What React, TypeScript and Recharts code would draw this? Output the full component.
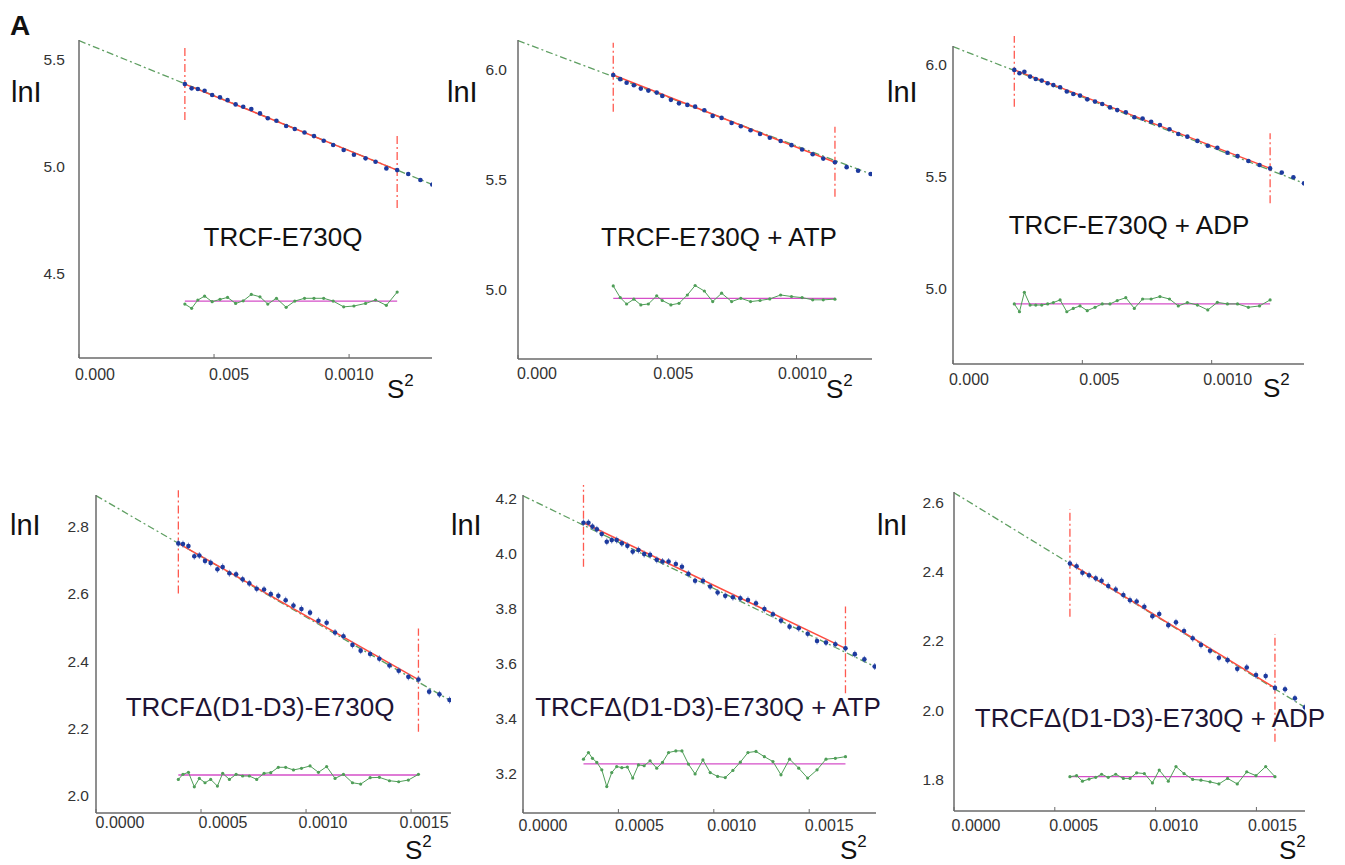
import React from 'react'
import { ComposedChart, Line, Scatter, XAxis, YAxis, ReferenceLine } from 'recharts'

// x tick values and the labels printed under them
const topXTicks = [0, 0.0005, 0.001]
const topXLabels = ['0.000', '0.005', '0.0010']
const bottomXTicks = [0, 0.0005, 0.001, 0.0015]
const bottomXLabels = ['0.0000', '0.0005', '0.0010', '0.0015']

// Panel 1: TRCF-E730Q
const p1S2 = [0.000392, 0.000417, 0.00044, 0.000465, 0.000493, 0.000522, 0.00055, 0.00058, 0.000608, 0.000638, 0.00067, 0.000699, 0.000731, 0.000767, 0.000799, 0.000835, 0.00087, 0.000906, 0.000941, 0.00098, 0.001018, 0.001061, 0.001098, 0.001138, 0.001178, 0.001219, 0.001264, 0.001308]
const p1LnI = [5.383, 5.363, 5.36, 5.352, 5.332, 5.321, 5.308, 5.288, 5.277, 5.266, 5.246, 5.223, 5.212, 5.187, 5.173, 5.157, 5.14, 5.118, 5.098, 5.075, 5.053, 5.036, 5.02, 4.989, 4.981, 4.963, 4.935, 4.914]
const p1Resid = [4.355, 4.335, 4.374, 4.392, 4.366, 4.377, 4.386, 4.358, 4.37, 4.4, 4.389, 4.355, 4.382, 4.34, 4.369, 4.382, 4.382, 4.382, 4.369, 4.342, 4.346, 4.358, 4.374, 4.349, 4.411]
const p1Fit = [[0.000392, 5.383], [0.001178, 4.981]]
const p1Extrap = [[0, 5.586], [0.001308, 4.914]]
const p1Cuts = [[0.000392, 5.215, 5.556], [0.001178, 4.804, 5.145]]
const p1Base = 4.369

// Panel 2: TRCF-E730Q + ATP
const p2S2 = [0.000342, 0.000367, 0.00039, 0.000416, 0.000441, 0.000468, 0.000498, 0.000518, 0.000549, 0.000578, 0.000608, 0.000636, 0.000669, 0.000699, 0.000731, 0.000767, 0.0008, 0.000835, 0.000869, 0.000904, 0.000943, 0.000982, 0.00102, 0.001058, 0.001096, 0.001138, 0.00118, 0.001221, 0.001266]
const p2LnI = [5.977, 5.958, 5.942, 5.93, 5.915, 5.906, 5.897, 5.882, 5.864, 5.848, 5.841, 5.833, 5.817, 5.791, 5.782, 5.759, 5.744, 5.726, 5.709, 5.692, 5.677, 5.658, 5.638, 5.617, 5.597, 5.58, 5.558, 5.542, 5.527]
const p2Resid = [5.018, 4.965, 4.936, 4.958, 4.932, 4.936, 4.973, 4.952, 4.932, 4.939, 4.977, 5.02, 4.995, 4.947, 4.985, 4.947, 4.962, 4.947, 4.952, 4.959, 4.977, 4.97, 4.965, 4.955, 4.955, 4.958]
const p2Fit = [[0.000342, 5.977], [0.001138, 5.58]]
const p2Extrap = [[0, 6.133], [0.001266, 5.527]]
const p2Cuts = [[0.000342, 5.81, 6.124], [0.001138, 5.424, 5.742]]
const p2Base = 4.962

// Panel 3: TRCF-E730Q + ADP
const p3S2 = [0.000237, 0.000257, 0.000276, 0.000298, 0.00032, 0.000343, 0.000366, 0.000388, 0.000414, 0.00044, 0.000465, 0.000491, 0.000519, 0.000549, 0.000577, 0.000607, 0.000635, 0.000668, 0.000701, 0.000733, 0.000766, 0.0008, 0.000837, 0.000871, 0.000906, 0.000945, 0.000985, 0.001022, 0.001061, 0.0011, 0.001142, 0.001185, 0.001226, 0.001271, 0.001316, 0.001357]
const p3LnI = [5.978, 5.963, 5.97, 5.948, 5.937, 5.93, 5.918, 5.91, 5.9, 5.881, 5.87, 5.863, 5.846, 5.836, 5.825, 5.81, 5.798, 5.788, 5.766, 5.76, 5.746, 5.731, 5.712, 5.691, 5.679, 5.66, 5.638, 5.629, 5.607, 5.592, 5.57, 5.552, 5.537, 5.518, 5.497, 5.47]
const p3Resid = [4.93, 4.895, 4.982, 4.925, 4.925, 4.925, 4.93, 4.936, 4.948, 4.895, 4.91, 4.921, 4.9, 4.915, 4.93, 4.93, 4.945, 4.958, 4.91, 4.952, 4.952, 4.963, 4.952, 4.921, 4.936, 4.925, 4.903, 4.937, 4.93, 4.93, 4.915, 4.921, 4.948]
const p3Fit = [[0.000237, 5.978], [0.001226, 5.537]]
const p3Extrap = [[0, 6.082], [0.001357, 5.47]]
const p3Cuts = [[0.000237, 5.813, 6.134], [0.001226, 5.381, 5.694]]
const p3Base = 4.93

// Panel 4: TRCFΔ(D1-D3)-E730Q
const p4S2 = [0.000392, 0.000414, 0.00044, 0.000468, 0.000492, 0.000519, 0.000546, 0.000578, 0.000603, 0.000635, 0.000667, 0.000698, 0.00073, 0.000765, 0.0008, 0.000832, 0.000868, 0.000903, 0.00094, 0.000978, 0.001019, 0.001059, 0.001098, 0.001138, 0.001178, 0.001221, 0.00126, 0.001305, 0.001349, 0.001397, 0.001441, 0.001487, 0.001535, 0.001586, 0.001635, 0.001683]
const p4LnI = [2.75, 2.748, 2.742, 2.712, 2.714, 2.698, 2.692, 2.673, 2.68, 2.661, 2.658, 2.643, 2.631, 2.615, 2.613, 2.599, 2.594, 2.581, 2.565, 2.555, 2.544, 2.52, 2.514, 2.485, 2.474, 2.448, 2.431, 2.421, 2.407, 2.387, 2.371, 2.353, 2.345, 2.309, 2.301, 2.284]
const p4Resid = [2.048, 2.063, 2.069, 2.026, 2.051, 2.038, 2.048, 2.028, 2.066, 2.048, 2.063, 2.058, 2.058, 2.048, 2.066, 2.068, 2.084, 2.084, 2.076, 2.081, 2.088, 2.069, 2.086, 2.051, 2.063, 2.038, 2.034, 2.053, 2.054, 2.044, 2.041, 2.046, 2.063]
const p4Fit = [[0.000392, 2.75], [0.001535, 2.345]]
const p4Extrap = [[0, 2.892], [0.001683, 2.284]]
const p4Cuts = [[0.000392, 2.601, 2.908], [0.001535, 2.19, 2.497]]
const p4Base = 2.061

// Panel 5: TRCFΔ(D1-D3)-E730Q + ATP
const p5S2 = [0.000317, 0.000343, 0.000364, 0.000387, 0.000413, 0.000439, 0.000465, 0.000491, 0.000518, 0.000547, 0.000575, 0.000605, 0.000635, 0.000666, 0.000701, 0.000731, 0.000763, 0.000801, 0.000833, 0.000867, 0.000902, 0.000943, 0.000981, 0.00102, 0.00106, 0.0011, 0.001139, 0.001179, 0.001221, 0.001265, 0.00131, 0.001352, 0.001397, 0.001445, 0.001492, 0.001541, 0.001588, 0.001637, 0.00169, 0.001739, 0.001789, 0.001843]
const p5LnI = [4.111, 4.111, 4.097, 4.087, 4.07, 4.042, 4.048, 4.048, 4.036, 4.027, 4.006, 4.012, 3.997, 3.994, 3.976, 3.97, 3.97, 3.961, 3.951, 3.925, 3.9, 3.9, 3.879, 3.857, 3.845, 3.84, 3.836, 3.83, 3.818, 3.797, 3.778, 3.755, 3.733, 3.727, 3.707, 3.681, 3.675, 3.669, 3.654, 3.633, 3.614, 3.588]
const p5Resid = [3.251, 3.275, 3.254, 3.239, 3.212, 3.151, 3.202, 3.224, 3.22, 3.222, 3.182, 3.23, 3.227, 3.245, 3.218, 3.239, 3.275, 3.281, 3.281, 3.233, 3.197, 3.248, 3.202, 3.188, 3.184, 3.21, 3.24, 3.275, 3.279, 3.26, 3.242, 3.194, 3.251, 3.218, 3.182, 3.212, 3.251, 3.254, 3.26]
const p5Fit = [[0.000317, 4.111], [0.00169, 3.654]]
const p5Extrap = [[0, 4.209], [0.001843, 3.588]]
const p5Cuts = [[0.000317, 3.951, 4.267], [0.00169, 3.491, 3.806]]
const p5Base = 3.234

// Panel 6: TRCFΔ(D1-D3)-E730Q + ADP
const p6S2 = [0.000575, 0.000608, 0.000637, 0.00067, 0.000703, 0.000732, 0.000765, 0.000802, 0.00084, 0.000873, 0.000906, 0.000944, 0.000984, 0.001018, 0.001063, 0.001101, 0.001141, 0.001184, 0.001225, 0.00127, 0.001314, 0.001357, 0.001405, 0.001452, 0.001498, 0.001546, 0.001592, 0.001642, 0.001691, 0.001741]
const p6LnI = [2.423, 2.415, 2.396, 2.389, 2.38, 2.373, 2.358, 2.348, 2.332, 2.317, 2.313, 2.298, 2.271, 2.277, 2.245, 2.253, 2.228, 2.207, 2.188, 2.171, 2.151, 2.144, 2.119, 2.123, 2.101, 2.098, 2.064, 2.06, 2.034, 2.008]
const p6Resid = [1.808, 1.811, 1.795, 1.801, 1.806, 1.815, 1.806, 1.815, 1.803, 1.803, 1.819, 1.817, 1.79, 1.827, 1.795, 1.837, 1.817, 1.8, 1.798, 1.793, 1.787, 1.803, 1.787, 1.822, 1.811, 1.837, 1.808]
const p6Fit = [[0.000575, 2.423], [0.001592, 2.064]]
const p6Extrap = [[0, 2.627], [0.001741, 2.008]]
const p6Cuts = [[0.000575, 2.269, 2.579], [0.001592, 1.909, 2.219]]
const p6Base = 1.808

const FONT = '"Liberation Sans", Arial, Helvetica, sans-serif'
const AXIS = { stroke: '#6a6a6a', strokeWidth: 1.5 }

const toPts = (xs: number[], ys: number[]) => ys.map((y, i) => ({ x: xs[i], y }))
const pairs = (arr: number[][]) => arr.map(([x, y]) => ({ x, y }))

function GuinierPanel({ box, xMax, yDomain, yTicks, xTicks, xLabels, s2, lnI, resid, base, fit, extrap, cuts, yGap, xLabelDy, xLabelDx, errBar }: any) {
  const YW = 60, XH = 40, MT = 10, MR = 10
  const pts = toPts(s2, lnI)
  const res = toPts(s2, resid)
  const baseLine = [{ x: s2[0], y: base }, { x: s2[resid.length - 1], y: base }]

  const xTick = (t: any) => {
    const i = xTicks.indexOf(t.payload.value)
    return (
      <g>
        <line x1={t.x} x2={t.x} y1={t.y} y2={t.y - 4} stroke="#6a6a6a" strokeWidth={1} />
        <text x={t.x + xLabelDx[i]} y={t.y + xLabelDy} textAnchor="middle" fontSize={16} fill="#333" fontFamily={FONT}>
          {xLabels[i]}
        </text>
      </g>
    )
  }

  const dotShape = (p: any) => (
    <g>
      {errBar ? <line x1={p.cx} x2={p.cx} y1={p.cy - 3.5} y2={p.cy + 3.5} stroke="#8090c8" strokeWidth={1} /> : null}
      <circle cx={p.cx} cy={p.cy} r={2.3} fill="#1d3a9e" />
    </g>
  )

  return (
    <div style={{ position: 'absolute', left: box.left - YW, top: box.top - MT }}>
      <ComposedChart width={box.w + YW + MR} height={box.h + MT + XH} margin={{ top: MT, right: MR, left: 0, bottom: 0 }}>
        <XAxis type="number" dataKey="x" domain={[0, xMax]} allowDataOverflow ticks={xTicks} interval={0} height={XH}
          tickSize={0} tickMargin={0} tickLine={false} axisLine={AXIS} tick={xTick} />
        <YAxis type="number" dataKey="y" domain={yDomain} allowDataOverflow ticks={yTicks} interval={0} width={YW}
          tickSize={0} tickMargin={yGap} tickLine={false} axisLine={AXIS}
          tick={{ fontSize: 15.5, fill: '#333', fontFamily: FONT }} tickFormatter={(v: number) => v.toFixed(1)} />
        <Line data={pairs(extrap)} dataKey="y" stroke="#5f9f62" strokeWidth={1.3} strokeDasharray="7 3 2 3" dot={false} isAnimationActive={false} />
        {cuts.map((c: number[], i: number) => (
          <ReferenceLine key={i} segment={[{ x: c[0], y: c[1] }, { x: c[0], y: c[2] }]} stroke="#ff5a50" strokeWidth={1.3} strokeDasharray="8 3 2 3" ifOverflow="visible" />
        ))}
        <Line data={pairs(fit)} dataKey="y" stroke="#ff4b3e" strokeWidth={1.5} dot={false} isAnimationActive={false} />
        <Scatter data={pts} dataKey="y" shape={dotShape} isAnimationActive={false} />
        <Line data={baseLine} dataKey="y" stroke="#d54fc8" strokeWidth={1.3} dot={false} isAnimationActive={false} />
        <Line data={res} dataKey="y" stroke="#4f9e58" strokeWidth={1} dot={{ r: 1.6, fill: '#4f9e58', stroke: 'none' }} isAnimationActive={false} />
      </ComposedChart>
    </div>
  )
}

const panels = [
  { box: { left: 79, top: 40, w: 353, h: 318 }, xMax: 0.001307, yDomain: [4.103, 5.589], yTicks: [4.5, 5.0, 5.5], xTicks: topXTicks, xLabels: topXLabels, s2: p1S2, lnI: p1LnI, resid: p1Resid, base: p1Base, fit: p1Fit, extrap: p1Extrap, cuts: p1Cuts, yGap: 14, xLabelDy: 22, xLabelDx: [16, 15, 0], errBar: false },
  { box: { left: 518, top: 40, w: 354, h: 319 }, xMax: 0.001271, yDomain: [4.686, 6.136], yTicks: [5.0, 5.5, 6.0], xTicks: topXTicks, xLabels: topXLabels, s2: p2S2, lnI: p2LnI, resid: p2Resid, base: p2Base, fit: p2Fit, extrap: p2Extrap, cuts: p2Cuts, yGap: 11, xLabelDy: 20, xLabelDx: [19, 16, 6], errBar: false },
  { box: { left: 953, top: 46, w: 351, h: 318 }, xMax: 0.001357, yDomain: [4.661, 6.085], yTicks: [5.0, 5.5, 6.0], xTicks: topXTicks, xLabels: topXLabels, s2: p3S2, lnI: p3LnI, resid: p3Resid, base: p3Base, fit: p3Fit, extrap: p3Extrap, cuts: p3Cuts, yGap: 6, xLabelDy: 21, xLabelDx: [16, 17, 16], errBar: false },
  { box: { left: 96, top: 495, w: 355, h: 318 }, xMax: 0.00169, yDomain: [1.948, 2.894], yTicks: [2.0, 2.2, 2.4, 2.6, 2.8], xTicks: bottomXTicks, xLabels: bottomXLabels, s2: p4S2, lnI: p4LnI, resid: p4Resid, base: p4Base, fit: p4Fit, extrap: p4Extrap, cuts: p4Cuts, yGap: 7, xLabelDy: 15, xLabelDx: [24, 22, 17, 13], errBar: true },
  { box: { left: 523, top: 495, w: 353, h: 318 }, xMax: 0.00185, yDomain: [3.055, 4.212], yTicks: [3.2, 3.4, 3.6, 3.8, 4.0, 4.2], xTicks: bottomXTicks, xLabels: bottomXLabels, s2: p5S2, lnI: p5LnI, resid: p5Resid, base: p5Base, fit: p5Fit, extrap: p5Extrap, cuts: p5Cuts, yGap: 6, xLabelDy: 18, xLabelDx: [20, 21, 18, 20], errBar: true },
  { box: { left: 954, top: 492, w: 351, h: 319 }, xMax: 0.001741, yDomain: [1.709, 2.629], yTicks: [1.8, 2.0, 2.2, 2.4, 2.6], xTicks: bottomXTicks, xLabels: bottomXLabels, s2: p6S2, lnI: p6LnI, resid: p6Resid, base: p6Base, fit: p6Fit, extrap: p6Extrap, cuts: p6Cuts, yGap: 10, xLabelDy: 20, xLabelDx: [22, 19, 18, 16], errBar: true },
]

const titles = [
  { text: 'TRCF-E730Q', x: 283, y: 246, color: '#111' },
  { text: 'TRCF-E730Q + ATP', x: 719, y: 246, color: '#111' },
  { text: 'TRCF-E730Q + ADP', x: 1129, y: 234, color: '#111' },
  { text: 'TRCFΔ(D1-D3)-E730Q', x: 260, y: 716, color: '#1e1433' },
  { text: 'TRCFΔ(D1-D3)-E730Q + ATP', x: 708, y: 716, color: '#1e1433' },
  { text: 'TRCFΔ(D1-D3)-E730Q + ADP', x: 1150, y: 727, color: '#1e1433' },
]
const lnIPos = [[11, 102], [447, 102], [887, 102], [10, 535], [451, 535], [877, 535]]
const s2Pos = [[387, 398], [826, 398], [1263, 397], [405, 859], [840, 859], [1279, 859]]

export default function App() {
  return (
    <div style={{ position: 'absolute', left: 0, top: 0, width: 1345, height: 865, background: '#fff', overflow: 'hidden' }}>
      {panels.map((p, i) => <GuinierPanel key={i} {...p} />)}
      <svg width={1345} height={865} style={{ position: 'absolute', left: 0, top: 0, pointerEvents: 'none' }} fontFamily={FONT}>
        <text x={10} y={35} fontSize={28} fontWeight="bold" fill="#111">A</text>
        {lnIPos.map(([x, y], i) => (
          <text key={'l' + i} x={x} y={y} fontSize={29} fill="#111">lnI</text>
        ))}
        {titles.map((t, i) => (
          <text key={'t' + i} x={t.x} y={t.y} fontSize={26} textAnchor="middle" fill={t.color}>{t.text}</text>
        ))}
        {s2Pos.map(([x, y], i) => (
          <text key={'s' + i} x={x} y={y} fontSize={26} fill="#111">
            S<tspan dy={-12} fontSize={17}>2</tspan>
          </text>
        ))}
      </svg>
    </div>
  )
}
